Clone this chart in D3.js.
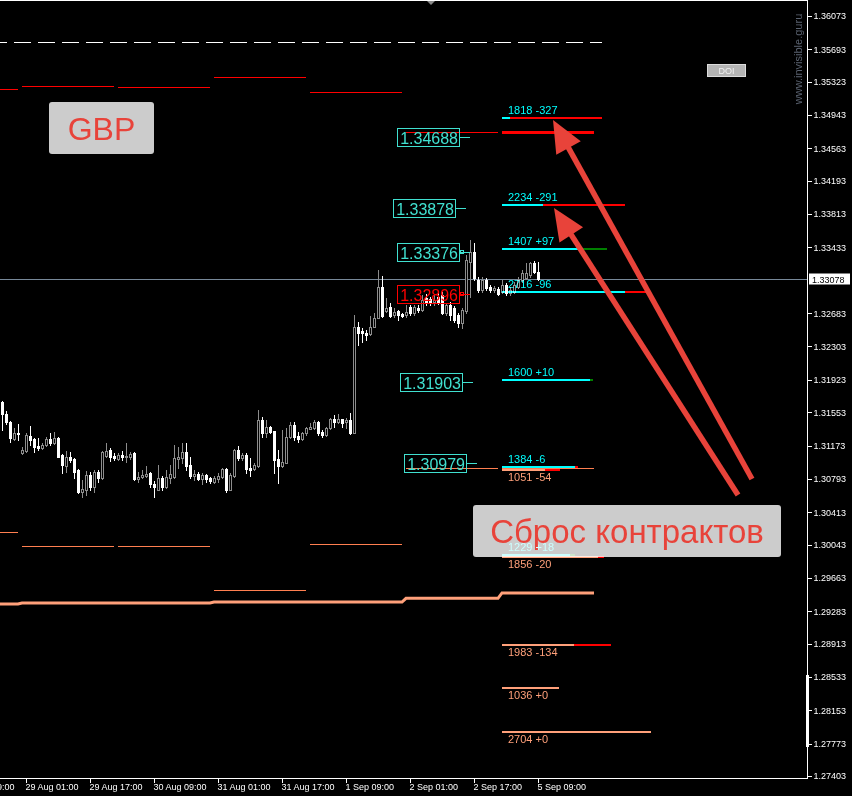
<!DOCTYPE html>
<html><head><meta charset="utf-8">
<script src="https://cdn.jsdelivr.net/npm/d3@7"></script>
<style>
html,body{margin:0;padding:0;background:#000;}
svg{display:block;}
text{font-family:"Liberation Sans",Arial,sans-serif;}
</style></head><body>
<svg id="c" width="852" height="796"></svg>
<script>
// ---------------- DATA ----------------
// hourly GBPUSD candles [open, high, low, close], bar 1 .. 135
const candles = [
[1.31670,1.31681,1.31350,1.31533],[1.31533,1.31567,1.31419,1.31441],[1.31441,1.31453,1.31213,1.31259],[1.31247,1.31373,1.31236,1.31316],
[1.31316,1.31419,1.31236,1.31304],[1.31088,1.31156,1.31076,1.31122],[1.31110,1.31316,1.31099,1.31293],[1.31282,1.31396,1.31179,1.31236],
[1.31247,1.31259,1.31099,1.31156],[1.31167,1.31259,1.31122,1.31145],[1.31145,1.31202,1.31133,1.31179],[1.31179,1.31270,1.31167,1.31247],
[1.31247,1.31316,1.31179,1.31202],[1.31202,1.31327,1.31190,1.31259],[1.31259,1.31270,1.31042,1.31042],[1.31065,1.31076,1.30859,1.30951],
[1.30939,1.31110,1.30871,1.31042],[1.31042,1.31099,1.30985,1.31008],[1.31019,1.31031,1.30802,1.30871],[1.30894,1.30905,1.30631,1.30643],
[1.30643,1.30779,1.30586,1.30677],[1.30665,1.30882,1.30608,1.30837],[1.30837,1.30871,1.30665,1.30700],[1.30700,1.30894,1.30643,1.30871],
[1.30871,1.30894,1.30757,1.30802],[1.30802,1.31110,1.30791,1.31099],[1.31053,1.31202,1.31042,1.31110],[1.31122,1.31145,1.30996,1.31042],
[1.31053,1.31088,1.31008,1.31031],[1.31019,1.31088,1.31008,1.31065],[1.31065,1.31110,1.31008,1.31042],[1.31042,1.31202,1.30985,1.31053],
[1.31042,1.31099,1.31019,1.31076],[1.31088,1.31099,1.30779,1.30791],[1.30791,1.30871,1.30757,1.30814],[1.30814,1.30894,1.30802,1.30837],
[1.30825,1.30939,1.30814,1.30848],[1.30859,1.30871,1.30700,1.30734],[1.30734,1.30768,1.30586,1.30700],[1.30665,1.30951,1.30665,1.30802],
[1.30802,1.30825,1.30665,1.30700],[1.30700,1.30894,1.30688,1.30814],[1.30802,1.30951,1.30745,1.30848],[1.30814,1.31179,1.30802,1.31031],
[1.31019,1.31156,1.30916,1.31042],[1.31031,1.31202,1.30974,1.31099],[1.31099,1.31202,1.30894,1.30939],[1.30951,1.31042,1.30802,1.30825],
[1.30825,1.30894,1.30779,1.30848],[1.30848,1.30871,1.30779,1.30791],[1.30791,1.30859,1.30734,1.30837],[1.30837,1.30848,1.30757,1.30791],
[1.30802,1.30814,1.30745,1.30768],[1.30757,1.30825,1.30745,1.30802],[1.30791,1.30859,1.30757,1.30825],[1.30814,1.30916,1.30802,1.30905],
[1.30905,1.30916,1.30643,1.30665],[1.30665,1.30859,1.30665,1.30837],[1.30825,1.31133,1.30814,1.31122],[1.31122,1.31167,1.31008,1.31031],
[1.31031,1.31088,1.31008,1.31065],[1.31065,1.31088,1.30859,1.30905],[1.30916,1.31031,1.30825,1.30894],[1.30905,1.30974,1.30894,1.30951],
[1.30939,1.31578,1.30928,1.31464],[1.31464,1.31498,1.31270,1.31316],[1.31316,1.31464,1.31270,1.31384],[1.31384,1.31396,1.31316,1.31327],
[1.31339,1.31339,1.30859,1.31008],[1.31019,1.31122,1.30745,1.30939],[1.30939,1.31350,1.30928,1.30985],[1.30974,1.31373,1.30974,1.31270],
[1.31270,1.31441,1.31259,1.31407],[1.31407,1.31441,1.31236,1.31270],[1.31282,1.31327,1.31213,1.31247],[1.31247,1.31327,1.31236,1.31316],
[1.31316,1.31384,1.31293,1.31373],[1.31361,1.31430,1.31361,1.31384],[1.31373,1.31464,1.31361,1.31441],[1.31441,1.31453,1.31293,1.31316],
[1.31327,1.31350,1.31270,1.31293],[1.31293,1.31384,1.31282,1.31373],[1.31373,1.31487,1.31361,1.31476],[1.31476,1.31521,1.31384,1.31441],
[1.31441,1.31533,1.31430,1.31476],[1.31476,1.31476,1.31384,1.31430],[1.31441,1.31487,1.31373,1.31464],[1.31464,1.31544,1.31304,1.31316],
[1.31316,1.32662,1.31316,1.32526],[1.32526,1.32583,1.32320,1.32457],[1.32480,1.32514,1.32354,1.32457],[1.32457,1.32491,1.32377,1.32434],
[1.32446,1.32651,1.32434,1.32526],[1.32526,1.32685,1.32526,1.32628],[1.32628,1.33175,1.32628,1.32982],[1.32982,1.33107,1.32640,1.32651],
[1.32708,1.32856,1.32697,1.32742],[1.32754,1.32799,1.32640,1.32651],[1.32662,1.32742,1.32640,1.32697],[1.32708,1.32719,1.32605,1.32662],
[1.32674,1.32685,1.32640,1.32651],[1.32662,1.32776,1.32640,1.32697],[1.32754,1.32776,1.32662,1.32685],[1.32685,1.32776,1.32662,1.32754],
[1.32742,1.32776,1.32697,1.32719],[1.32719,1.32890,1.32708,1.32833],[1.32856,1.32902,1.32776,1.32799],[1.32845,1.32868,1.32776,1.32799],
[1.32811,1.32890,1.32776,1.32833],[1.32868,1.32925,1.32788,1.32811],[1.32890,1.32925,1.32674,1.32685],[1.32685,1.32799,1.32662,1.32776],
[1.32776,1.32811,1.32605,1.32662],[1.32742,1.32765,1.32583,1.32605],[1.32662,1.32685,1.32526,1.32571],[1.32571,1.32742,1.32514,1.32719],
[1.32708,1.33347,1.32685,1.33289],[1.33267,1.33518,1.32868,1.33381],[1.33381,1.33483,1.33061,1.33084],[1.33061,1.33096,1.32925,1.32947],
[1.32947,1.33096,1.32925,1.33061],[1.33061,1.33084,1.32947,1.32970],[1.32982,1.33004,1.32925,1.32947],[1.32947,1.32993,1.32925,1.32970],
[1.32959,1.32982,1.32890,1.32902],[1.32925,1.33061,1.32913,1.33004],[1.33004,1.33027,1.32890,1.32913],[1.32913,1.32982,1.32890,1.32947],
[1.32925,1.33039,1.32913,1.33004],[1.32982,1.33096,1.32970,1.33061],[1.33061,1.33175,1.33039,1.33141],[1.33084,1.33255,1.33073,1.33141],
[1.33118,1.33267,1.33096,1.33255],[1.33255,1.33278,1.33141,1.33153],[1.33153,1.33267,1.33061,1.33078]
];
const currentPrice = 1.33078;

// time axis
const timeTickBars   = [-9, 7, 23, 39, 55, 71, 87, 103, 119, 135];
const timeTickLabels = ["26 Aug 09:00","29 Aug 01:00","29 Aug 17:00","30 Aug 09:00","31 Aug 01:00",
                        "31 Aug 17:00","1 Sep 09:00","2 Sep 01:00","2 Sep 17:00","5 Sep 09:00"];
// price axis
const priceTicks = [1.36073,1.35693,1.35323,1.34943,1.34563,1.34193,1.33813,1.33433,1.32683,1.32303,1.31923,
                    1.31553,1.31173,1.30793,1.30413,1.30043,1.29663,1.29283,1.28913,1.28533,1.28153,1.27773,1.27403];

// daily levels
const days          = ["26 Aug","29 Aug","30 Aug","31 Aug","1 Sep","2 Sep","5 Sep"];
const dayFirstBar   = [-18, 6, 30, 54, 78, 102, 126];
const dayBarsLen    = 23;
const upperDayLevel = [1.35240,1.35274,1.35263,1.35377,1.35206,1.34750,1.34750];
const lowerDayLevel = [1.30186,1.30027,1.30027,1.29525,1.30050,1.30916,1.30916];
const baseDayLevel  = [1.29365,1.29376,1.29376,1.29388,1.29388,1.29430,1.29491];
const dashedLevel   = 1.35776;

// marked prices (boxes)
const markPrices = [1.34688,1.33878,1.33376,1.32896,1.31903,1.30979];
const markIsRed  = [false,false,false,true,false,false];

// option open interest levels for 5 Sep
const callPrices = [1.34909,1.33917,1.33415,1.32924,1.31923,1.30928,1.29924];
const callOI     = [1818,2234,1407,2716,1600,1384,1229];
const callChg    = [-327,-291,97,-96,10,-6,18];
const putPrices  = [1.30894,1.29901,1.28897,1.28407,1.27905];
const putOI      = [1051,1856,1983,1036,2704];
const putChg     = [-54,-20,-134,0,0];

// annotations
const arrowTailBar   = [188.5, 185];
const arrowTailPrice = [1.30791, 1.30608];
const arrowTipBar    = [138.75, 139];
const arrowTipPrice  = [1.34887, 1.33883];

// ---------------- LAYOUT ----------------
const R = 807, B = 778;
const markBoxRight = [460, 456, 460, 460, 463, 467];
const C_CYAN = "#00ffff", C_SALMON = "#ffa07a", C_CORAL = "#ff7f50", C_RED = "#ff0000", C_GREEN = "#008000";
const C_TURQ = "#40e0d0", C_ARROW = "#e8433a";

const svg = d3.select("#c");
svg.append("rect").attr("width",852).attr("height",796).attr("fill","#000");
svg.append("defs").append("clipPath").attr("id","clip")
  .append("rect").attr("x",0).attr("y",0).attr("width",R).attr("height",B);

const y = d3.scaleLinear().domain([1.27403, 1.36073]).range([776, 16]);
const x = d3.scaleLinear().domain([1, 202]).range([2, 806]);
const lenScale = d3.scaleLinear().domain([0, 1000]).range([0, 55]);
const chgScale = d3.scaleLinear().domain([0, 100]).range([0, 28]);

const plot = svg.append("g").attr("clip-path","url(#clip)");
const crisp = g => g.attr("shape-rendering","crispEdges");
const py = v => Math.round(y(v)) + 0.5;

// dashed level
plot.append("line").call(crisp)
  .attr("x1", x(-50)).attr("x2", x(151)).attr("y1", py(dashedLevel)).attr("y2", py(dashedLevel))
  .attr("stroke","#ffffff").attr("stroke-width",1).attr("stroke-dasharray","17,7");

// daily upper (red) segments
plot.append("g").selectAll("line").data(upperDayLevel).join("line").call(crisp)
  .attr("x1",(d,i)=>x(dayFirstBar[i])).attr("x2",(d,i)=>x(dayFirstBar[i]+dayBarsLen))
  .attr("y1",d=>py(d)).attr("y2",d=>py(d))
  .attr("stroke",C_RED).attr("stroke-width",(d,i)=> i===days.length-1 ? 2.5 : 1);

// daily lower (coral) segments
plot.append("g").selectAll("line").data(lowerDayLevel).join("line").call(crisp)
  .attr("x1",(d,i)=>x(dayFirstBar[i])).attr("x2",(d,i)=>x(dayFirstBar[i]+dayBarsLen))
  .attr("y1",d=>py(d)).attr("y2",d=>py(d))
  .attr("stroke",C_CORAL).attr("stroke-width",1);

// thick base line
const basePts = [];
baseDayLevel.forEach((v,i)=>{ basePts.push([dayFirstBar[i], v]); basePts.push([dayFirstBar[i]+dayBarsLen, v]); });
plot.append("path").datum(basePts)
  .attr("d", d3.line().x(d=>x(d[0])).y(d=>y(d[1])))
  .attr("fill","none").attr("stroke",C_SALMON).attr("stroke-width",3);

// current price line
plot.append("line").call(crisp).attr("x1",0).attr("x2",R)
  .attr("y1",py(currentPrice)).attr("y2",py(currentPrice))
  .attr("stroke","#778899").attr("stroke-width",1);

// gray info boxes
function infoBox(x0,y0,w,h,label,fs){
  const g = svg.append("g");
  g.append("rect").attr("x",x0).attr("y",y0).attr("width",w).attr("height",h).attr("rx",3)
    .attr("fill","#cccccc");
  g.append("text").attr("x",x0+w/2).attr("y",y0+h/2+fs*0.36).attr("text-anchor","middle")
    .attr("font-size",fs).attr("fill","#e8433a").text(label);
}
infoBox(49,102,105,52,"GBP",32);
infoBox(473,505,308,52,"Сброс контрактов",33);

// option levels (drawn with screen blending)
const opt = svg.append("g").style("mix-blend-mode","screen");
const optStart = x(126);
const fmtChg = v => (v >= 0 ? "+" : "-") + Math.abs(v);
function optLevel(price, oi, chg, col, above){
  const yy = Math.round(y(price));
  const L = lenScale(oi);
  opt.append("rect").call(crisp).attr("x",optStart).attr("y",yy-1).attr("width",L).attr("height",2).attr("fill",col);
  if (chg < 0) {
    const r = Math.max(3, chgScale(-chg));
    opt.append("rect").call(crisp).attr("x",optStart+L-r).attr("y",yy-1).attr("width",r).attr("height",2).attr("fill",C_RED);
  } else if (chg > 0) {
    opt.append("rect").call(crisp).attr("x",optStart+L).attr("y",yy-1).attr("width",chgScale(chg)).attr("height",2).attr("fill",C_GREEN);
  }
  opt.append("text").attr("x",optStart+6).attr("y", above ? yy-4 : yy+11)
    .attr("font-size",11).attr("fill",col).text(oi + " " + fmtChg(chg));
}
callPrices.forEach((p,i)=>optLevel(p, callOI[i], callChg[i], C_CYAN, true));
putPrices.forEach((p,i)=>optLevel(p, putOI[i], putChg[i], C_SALMON, false));

// marked price boxes
const mk = svg.append("g");
markPrices.forEach((p,i)=>{
  const col = markIsRed[i] ? C_RED : C_TURQ;
  const yy = Math.round(y(p)) + 0.5;
  const right = markBoxRight[i];
  const t = mk.append("text").attr("x", right-2).attr("y", yy+6).attr("text-anchor","end")
    .attr("font-size",16).attr("fill",col).text(d3.format(".5f")(p));
  const w = t.node().getComputedTextLength();
  mk.insert("rect","text").call(crisp).attr("x", right-w-4.5).attr("y", yy-9).attr("width", w+4).attr("height",18)
    .attr("fill","none").attr("stroke",col).attr("stroke-width",1);
  mk.append("line").call(crisp).attr("x1",right-0.5).attr("x2",right+10).attr("y1",yy).attr("y2",yy)
    .attr("stroke",col).attr("stroke-width",1);
  if (i===2 || i===3) {
    mk.append("rect").call(crisp).attr("x",right).attr("y",yy-2).attr("width",3).attr("height",3)
      .attr("fill","none").attr("stroke",col).attr("stroke-width",1);
  }
});

// candles
const cg = plot.append("g").call(crisp);
candles.forEach((c,i)=>{
  const [o,h,l,cl] = c;
  const cx = Math.round(x(i+1));
  const bull = cl > o;
  const top = Math.round(y(Math.max(o,cl))), bot = Math.round(y(Math.min(o,cl)));
  cg.append("line").attr("x1",cx+0.5).attr("x2",cx+0.5)
    .attr("y1",Math.round(y(h))).attr("y2",Math.round(y(l))+1)
    .attr("stroke", bull ? "#8c8c8c" : "#ffffff").attr("stroke-width",1);
  if (bull) {
    cg.append("rect").attr("x",cx-0.5).attr("y",top+0.5).attr("width",2).attr("height",Math.max(0,bot-top))
      .attr("fill","#000").attr("stroke","#8c8c8c").attr("stroke-width",1);
  } else {
    cg.append("rect").attr("x",cx-1).attr("y",top).attr("width",3).attr("height",Math.max(1,bot-top+1))
      .attr("fill","#ffffff");
  }
});

// arrows
function arrow(x1,y1,x2,y2){
  const dx=x2-x1, dy=y2-y1, L=Math.hypot(dx,dy), ux=dx/L, uy=dy/L;
  const hl=32, hw=14;
  const bx=x2-ux*hl, by=y2-uy*hl;
  svg.append("line").attr("x1",x1).attr("y1",y1).attr("x2",bx+ux*4).attr("y2",by+uy*4)
    .attr("stroke",C_ARROW).attr("stroke-width",5.5);
  svg.append("polygon").attr("points",[[x2,y2],[bx-uy*hw,by+ux*hw],[bx+uy*hw,by-ux*hw]].map(p=>p.join(",")).join(" "))
    .attr("fill",C_ARROW);
}
arrowTipBar.forEach((b,i)=>arrow(x(arrowTailBar[i]), y(arrowTailPrice[i]), x(b), y(arrowTipPrice[i])));

// top shift marker
svg.append("polygon").attr("points","426,0 436,0 431,5").attr("fill","#8a8a8a");

// DOI button
svg.append("rect").attr("x",707.5).attr("y",64.5).attr("width",38).attr("height",12)
  .attr("fill","#b4b4b4").attr("stroke","#dcdcdc");
svg.append("text").attr("x",726.5).attr("y",74).attr("text-anchor","middle").attr("font-size",9)
  .attr("fill","#f0f0f0").text("DOI");

// watermark
svg.append("text").attr("transform","translate(802,59) rotate(-90)").attr("text-anchor","middle")
  .attr("font-size",11).attr("fill","#5a6270").text("www.invisible.guru");

// frame
svg.append("line").call(crisp).attr("x1",0).attr("x2",R+0.5).attr("y1",0.5).attr("y2",0.5).attr("stroke","#fff");

// right axis
const ra = svg.append("g").attr("transform",`translate(${R+0.5},0)`)
  .call(d3.axisRight(y).tickValues(priceTicks).tickFormat(d3.format(".5f")).tickSize(4).tickSizeOuter(0));
ra.select(".domain").remove();
ra.append("line").call(crisp).attr("x1",0).attr("x2",0).attr("y1",0).attr("y2",B+0.5).attr("stroke","#fff");
ra.selectAll(".tick line").attr("stroke","#fff").call(crisp);
ra.selectAll(".tick text").attr("fill","#fff").attr("font-size",9).attr("x",6)
  .attr("font-family","'Liberation Sans',Arial,sans-serif");

// current price label
const cpy = Math.round(y(currentPrice));
svg.append("rect").attr("x",R+2).attr("y",cpy-5.5).attr("width",41).attr("height",11).attr("fill","#fff");
svg.append("text").attr("x",R+5).attr("y",cpy+3.5).attr("font-size",9).attr("fill","#000").text(d3.format(".5f")(currentPrice));

// scroll bar marker on axis
svg.append("rect").attr("x",R-1).attr("y",675).attr("width",3).attr("height",72).attr("fill","#fff");

// bottom axis
const ba = svg.append("g").attr("transform",`translate(0,${B+0.5})`)
  .call(d3.axisBottom(x).tickValues(timeTickBars).tickFormat((d,i)=>timeTickLabels[i]).tickSize(4).tickSizeOuter(0));
ba.select(".domain").remove();
ba.append("line").call(crisp).attr("x1",0).attr("x2",R+0.5).attr("y1",0).attr("y2",0).attr("stroke","#fff");
ba.selectAll(".tick line").attr("stroke","#fff").call(crisp);
ba.selectAll(".tick text").attr("fill","#fff").attr("font-size",9).attr("text-anchor","start").attr("x",-1).attr("dy","0.55em")
  .attr("font-family","'Liberation Sans',Arial,sans-serif");
</script>
</body></html>
